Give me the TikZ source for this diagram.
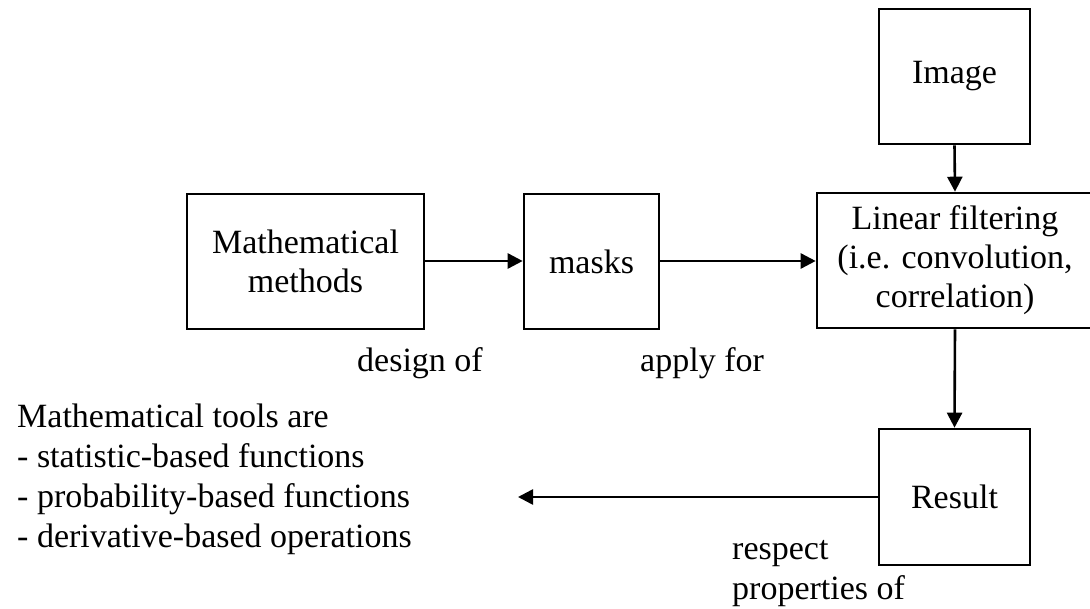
\documentclass[tikz,border=0pt]{standalone}
\usepackage{fontspec}
\setmainfont{Liberation Serif}
\usetikzlibrary{arrows.meta}
\begin{document}
\begin{tikzpicture}[x=1pt,y=-1pt,
  box/.style={draw,line width=2.6pt,align=center,inner sep=0pt,
    font=\fontsize{34}{39}\selectfont},
  lbl/.style={inner sep=0pt,align=left,font=\fontsize{34}{40}\selectfont},
  arr/.style={line width=2.6pt,-{Triangle[length=15pt,width=15pt]}}]
\useasboundingbox[fill=white] (0,0) rectangle (1090,609);
\node[box,minimum width=151pt,minimum height=135pt] (img) at (954.5,76.5) {Image};
\node[box,minimum width=276pt,minimum height=135pt] (lf) at (955,260.5) {Linear filtering\\(i.e. convolution,\\correlation)};
\node[box,minimum width=237pt,minimum height=135pt] (mm) at (305.5,261.5) {Mathematical\\methods};
\node[box,minimum width=135pt,minimum height=135pt] (mk) at (591.5,261.5) {masks};
\node[box,minimum width=151pt,minimum height=136pt] (res) at (954.5,497) {Result};
\node[lbl,anchor=base west] (design) at (357,372) {design of};
\node[lbl,anchor=base west] (apply) at (640,372) {apply for};
\node[lbl,anchor=base west] (resp) at (732,599) {respect\\properties of};
\node[lbl,anchor=base west] (tools) at (17,547) {Mathematical tools are\\- statistic-based functions\\- probability-based functions\\- derivative-based operations};
\coordinate (tip) at (518,497);
\draw[arr] (img.south) -- (lf.north);
\draw[arr] (lf.south) -- (res.north);
\draw[arr] (mm.east |- 0,261) -- (mk.west |- 0,261);
\draw[arr] (mk.east |- 0,261) -- (lf.west |- 0,261);
\draw[arr] (res.west) -- (tip);
\end{tikzpicture}
\end{document}
